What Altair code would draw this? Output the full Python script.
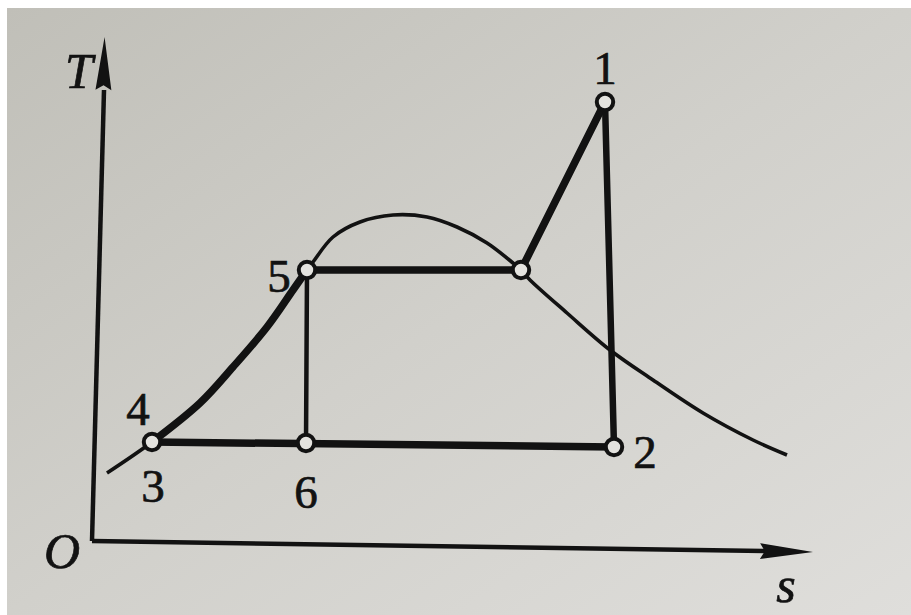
import altair as alt
import pandas as pd

# Saturation dome of the working fluid (entropy s, temperature T)
dome_s = [0.15, 0.60, 1.08, 1.41, 1.75, 2.01, 2.15, 2.21, 2.41, 2.68, 3.01, 3.35,
          3.65, 3.95, 4.21, 4.29, 4.38, 4.75, 5.18, 5.61, 6.11, 6.61, 6.95]
dome_T = [0.68, 0.99, 1.38, 1.74, 2.14, 2.51, 2.71, 2.79, 3.04, 3.19, 3.26, 3.24,
          3.14, 2.98, 2.78, 2.71, 2.61, 2.28, 1.91, 1.61, 1.28, 1.01, 0.86]

# Cycle state points
state_names = ["1", "2", "3", "5", "6", "a"]
state_s = [5.13, 5.22, 0.60, 2.15, 2.14, 4.29]
state_T = [4.39, 0.94, 0.99, 2.71, 0.98, 2.71]

# Straight process segments: start, end, line weight
seg_from = ["5", "a", "1", "2", "5"]
seg_to = ["a", "1", "2", "3", "6"]
seg_width = [7.5, 7.5, 6.5, 7.5, 4.5]

# Point labels (baseline positions)
label_text = ["1", "2", "3", "4", "5", "6"]
label_s = [5.13, 5.53, 0.61, 0.46, 1.87, 2.14]
label_T = [4.57, 0.73, 0.39, 1.16, 2.49, 0.33]

# Axis names
axis_text = ["T", "O", "s"]
axis_s = [-0.13, -0.30, 6.94]
axis_T = [4.53, -0.27, -0.61]

# Axis shafts and arrow heads
axis_line_s = [0.0, 0.0]
axis_line_T = [0.0, 0.0]
axis_line_s2 = [0.12, 6.78]
axis_line_T2 = [4.51, -0.10]
arrow_s = [0.12, 6.945]
arrow_T = [4.775, -0.105]
arrow_angle = [1.25, 90.87]

INK = "#121212"
XS = alt.Scale(domain=[-0.92, 8.19], nice=False, zero=False)
YS = alt.Scale(domain=[-0.74, 5.41], nice=False, zero=False)

lookup = {n: (a, b) for n, a, b in zip(state_names, state_s, state_T)}

dome = pd.DataFrame({"s": dome_s, "T": dome_T})
heat = dome[(dome.s >= lookup["3"][0]) & (dome.s <= lookup["5"][0])]
segs = pd.DataFrame({
    "s": [lookup[a][0] for a in seg_from],
    "T": [lookup[a][1] for a in seg_from],
    "s2": [lookup[b][0] for b in seg_to],
    "T2": [lookup[b][1] for b in seg_to],
    "w": seg_width,
})
states = pd.DataFrame({"name": state_names, "s": state_s, "T": state_T})
labels = pd.DataFrame({"t": label_text, "s": label_s, "T": label_T})
axis_labels = pd.DataFrame({"t": axis_text, "s": axis_s, "T": axis_T})
axes = pd.DataFrame({"s": axis_line_s, "T": axis_line_T, "s2": axis_line_s2, "T2": axis_line_T2})
arrows = pd.DataFrame({"s": arrow_s, "T": arrow_T, "a": arrow_angle})
paper = pd.DataFrame({"s": [-0.85], "T": [-0.74], "s2": [8.19], "T2": [5.33]})

X = alt.X("s:Q", scale=XS, axis=None)
Y = alt.Y("T:Q", scale=YS, axis=None)

paper_layer = alt.Chart(paper).mark_rect(
    fill=alt.Gradient(
        gradient="linear",
        stops=[alt.GradientStop(color="#c0bfb8", offset=0),
               alt.GradientStop(color="#d1d0cb", offset=0.5),
               alt.GradientStop(color="#dfdedb", offset=1)],
        x1=0, y1=0, x2=1, y2=1,
    )
).encode(x=X, y=Y, x2="s2:Q", y2="T2:Q")

dome_layer = alt.Chart(dome).mark_line(
    interpolate="catmull-rom", strokeWidth=3.6, color=INK
).encode(x=X, y=Y, order="s:Q")

heat_layer = alt.Chart(heat).mark_line(
    interpolate="catmull-rom", strokeWidth=7.5, color=INK, strokeCap="round"
).encode(x=X, y=Y, order="s:Q")

seg_layer = alt.Chart(segs).mark_rule(color=INK, strokeCap="round").encode(
    x=X, y=Y, x2="s2:Q", y2="T2:Q",
    strokeWidth=alt.StrokeWidth("w:Q", scale=None),
)

axis_layer = alt.Chart(axes).mark_rule(color=INK, strokeWidth=4.5).encode(
    x=X, y=Y, x2="s2:Q", y2="T2:Q"
)

arrow_layer = alt.Chart(arrows).mark_point(
    shape="M0,-1L0.3,1L0,0.82L-0.3,1Z", size=2809, filled=True,
    fill=INK, strokeWidth=0, opacity=1
).encode(x=X, y=Y, angle=alt.Angle("a:Q", scale=None))

state_layer = alt.Chart(states).mark_point(
    shape="circle", size=270, filled=True, fill="#e4e3df", stroke=INK,
    strokeWidth=4, opacity=1, fillOpacity=1, strokeOpacity=1
).encode(x=X, y=Y)

label_layer = alt.Chart(labels).mark_text(
    font="Liberation Serif", fontSize=47, baseline="alphabetic",
    align="center", color=INK, stroke=INK, strokeWidth=0.7
).encode(x=X, y=Y, text="t:N")

axis_label_layer = alt.Chart(axis_labels).mark_text(
    font="Liberation Serif", fontSize=50, fontStyle="italic",
    baseline="alphabetic", align="center", color=INK, stroke=INK, strokeWidth=0.7
).encode(x=X, y=Y, text="t:N")

chart = alt.layer(
    paper_layer, dome_layer, heat_layer, seg_layer, axis_layer, arrow_layer,
    state_layer, label_layer, axis_label_layer,
).properties(
    width=911, height=615, padding=0,
    autosize=alt.AutoSizeParams(type="none"), background="white",
).configure_view(stroke=None)

chart.save("out.html", embed_options={"renderer": "svg", "actions": False})
